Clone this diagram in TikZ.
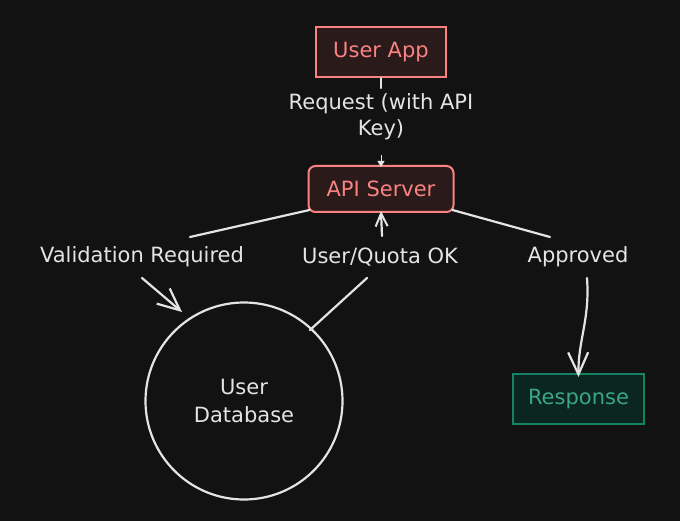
\documentclass[tikz,border=0pt]{standalone}
\usepackage{fontspec}
\setmainfont{DejaVu Sans}
\usetikzlibrary{arrows.meta}
\definecolor{bg}{RGB}{18,18,18}
\definecolor{ink}{RGB}{228,228,228}
\definecolor{salmon}{RGB}{250,130,130}
\definecolor{redfill}{RGB}{42,26,26}
\definecolor{tealline}{RGB}{22,130,100}
\definecolor{tealtext}{RGB}{60,165,135}
\definecolor{tealfill}{RGB}{10,38,30}
\tikzset{
  redbox/.style={draw=salmon, fill=redfill, line width=2pt, text=salmon, minimum height=50pt, inner sep=0pt, font=\fontsize{21}{24}\selectfont},
  greenbox/.style={draw=tealline, fill=tealfill, line width=2pt, text=tealtext, minimum height=50pt, minimum width=131pt, inner sep=0pt, font=\fontsize{21}{24}\selectfont},
  lbl/.style={text=ink, align=center, font=\fontsize{21}{26}\selectfont, inner sep=2pt},
  conn/.style={draw=ink, line width=2.2pt, line cap=round},
  arr/.style={conn, -{Straight Barb[length=22pt, width=20pt, line width=2.2pt]}},
  smallarr/.style={conn, -{Straight Barb[length=13pt, width=12pt, line width=2pt]}},
}
\begin{document}
\begin{tikzpicture}[x=1pt, y=-1pt]
\fill[bg] (0,0) rectangle (680,521);
\useasboundingbox (0,0) rectangle (680,521);

\node[redbox, minimum width=130pt] (app) at (381,52) {User App};
\node[redbox, minimum width=145pt, minimum height=46pt, rounded corners=7pt] (api) at (381,189) {API Server};
\node[greenbox] (resp) at (578.5,399) {Response};
\node[draw=ink, line width=2.2pt, circle, minimum size=197pt, text=ink, align=center, font=\fontsize{21}{28}\selectfont] (db) at (244,401) {User\\Database};

\node[lbl] (reqlbl) at (381,117) {Request (with API\\Key)};
\node[lbl] (vallbl) at (142,257) {Validation Required};
\node[lbl] (oklbl) at (380,257) {User/Quota OK};
\node[lbl] (applbl) at (578,257) {Approved};

\coordinate (reqend) at (381,155);
\draw[conn] (app.south) -- (381,88);
\draw[draw=ink, line width=0.8pt, -{Triangle[length=6pt, width=7pt]}] (reqend) -- ([yshift=-2pt]api.north);

\draw[conn] (api.south west) ++(2,-3) coordinate (apisw) (apisw) -- (190,237);
\draw[arr] (142,278) -- (182,312);
\draw[conn] (310,330) -- (367,278);
\draw[smallarr] (382,236) -- ([yshift=2pt]api.south);
\draw[conn] (api.south east) ++(-2,-3) coordinate (apise) (apise) -- (550,237);
\draw[arr] (587,278) .. controls (590,320) and (578,340) .. ([yshift=-4pt]resp.north);
\end{tikzpicture}
\end{document}
